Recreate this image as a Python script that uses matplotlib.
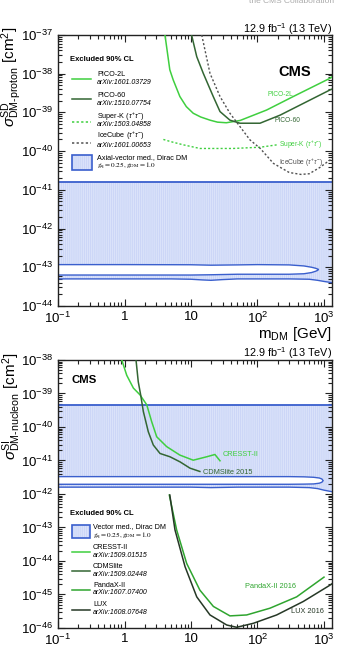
import numpy as np
import matplotlib
matplotlib.use('Agg')
import matplotlib.pyplot as plt
from matplotlib.ticker import LogLocator, FuncFormatter, NullFormatter, FixedLocator
from matplotlib.patches import Rectangle

plt.rcParams['font.family'] = ['Liberation Sans', 'DejaVu Sans']
plt.rcParams['mathtext.fontset'] = 'custom'
plt.rcParams['mathtext.rm'] = 'Liberation Sans'
plt.rcParams['mathtext.it'] = 'Liberation Sans:italic'
plt.rcParams['mathtext.bf'] = 'Liberation Sans:bold'
plt.rcParams['hatch.linewidth'] = 0.5

# ---------------- data ----------------
x_tick_values = [0.1, 1, 10, 100, 1000]
x_tick_labels = [r'$10^{-1}$', '1', '10', r'$10^{2}$', r'$10^{3}$']
x_limits = [0.1, 1320]
sd_y_limits = [1e-44, 1e-37]
si_y_limits = [1e-46, 1e-38]

# Spin-dependent panel
pico2l_mass = [4.06, 4.8, 5.4, 6.8, 8.5, 10.8, 14, 19.3, 25, 34, 55, 137, 345, 1230, 1320]
pico2l_xs = [1e-37, 1.26e-38, 6.9e-39, 2.57e-39, 1.41e-39, 9.5e-40, 7.6e-40, 6.3e-40,
             5.6e-40, 5.4e-40, 6.2e-40, 1.15e-39, 2.57e-39, 7.6e-39, 8.3e-39]
pico60_mass = [10.2, 12.2, 15.3, 21.6, 27.3, 38.5, 54.5, 109, 219, 1230, 1320]
pico60_xs = [1e-37, 2.75e-38, 1.02e-38, 2.57e-39, 1.05e-39, 6.3e-40, 5.25e-40, 5.25e-40,
             8.5e-40, 3.8e-39, 4.0e-39]
superk_mass = [3.84, 5.0, 7.7, 13.6, 43, 110, 195]
superk_xs = [2.0e-40, 1.75e-40, 1.45e-40, 1.17e-40, 1.17e-40, 1.26e-40, 1.45e-40]
icecube_mass = [14.5, 19.3, 27.3, 38.5, 54.5, 77, 110, 174, 300, 450, 600, 870, 1230, 1320]
icecube_xs = [1e-37, 1.02e-38, 2.57e-39, 9.5e-40, 4.3e-40, 1.95e-40, 1.17e-40, 4.8e-41,
              2.8e-41, 2.5e-41, 2.6e-41, 3.8e-41, 5.9e-41, 6.3e-41]

sd_band_top = 1.6e-41
sd_lower_mass = [0.1, 1, 5, 10, 15, 20, 30, 50, 100, 300, 600, 800, 1000, 1320]
sd_lower_xs = [5.0e-44, 5.0e-44, 5.0e-44, 4.9e-44, 4.7e-44, 4.6e-44, 4.8e-44, 5.0e-44,
               5.0e-44, 5.0e-44, 4.9e-44, 4.6e-44, 4.3e-44, 4.0e-44]
sd_island_mass = [0.1, 1, 10, 20, 50, 100, 300, 500, 650, 750, 800, 830]
sd_island_upper = [1.17e-43, 1.17e-43, 1.16e-43, 1.13e-43, 1.15e-43, 1.17e-43, 1.15e-43,
                   1.08e-43, 1.0e-43, 9.4e-44, 9.0e-44, 8.8e-44]
sd_island_lower = [6.3e-44, 6.3e-44, 6.3e-44, 6.4e-44, 6.6e-44, 6.6e-44, 6.6e-44, 6.8e-44,
                   7.3e-44, 7.9e-44, 8.3e-44, 8.8e-44]

# Spin-independent panel
cresst_mass = [0.91, 1.08, 1.36, 1.71, 2.16, 2.56, 3.05, 4.3, 6.8, 10.8, 17.2, 22.9, 27.3]
cresst_xs = [1e-38, 3.5e-39, 1.45e-39, 9.1e-40, 4.6e-40, 1.45e-40, 5.1e-41, 2.6e-41,
             1.45e-41, 1.02e-41, 1.29e-41, 1.51e-41, 9.8e-42]
cdmslite_mass = [1.49, 1.61, 1.75, 1.92, 2.28, 2.71, 3.42, 4.83, 6.84, 9.66, 13.6]
cdmslite_xs = [1e-38, 2.24e-39, 9.1e-40, 2.9e-40, 7.2e-41, 2.9e-41, 1.62e-41, 1.29e-41,
               9.1e-42, 5.9e-42, 4.7e-42]
pandax_mass = [4.72, 6.08, 8.6, 13.6, 21.7, 38.5, 68.7, 154, 388, 1000]
pandax_xs = [9.3e-43, 8.5e-44, 8.5e-45, 1.35e-45, 4.4e-46, 2.3e-46, 2.45e-46, 3.9e-46,
             8.5e-46, 3.3e-45]
lux_mass = [4.8, 5.74, 8.13, 12.2, 19.3, 34.4, 48.6, 86.5, 194, 489, 1230, 1320]
lux_xs = [9.3e-43, 8.5e-44, 6.8e-45, 8.5e-46, 2.45e-46, 1.23e-46, 1.05e-46, 1.38e-46,
          2.45e-46, 6.2e-46, 1.9e-45, 2.1e-45]

si_band_top = 4.6e-40
si_lower_mass = [0.1, 1, 10, 20, 50, 100, 300, 600, 800, 1000, 1320]
si_lower_xs = [1.6e-42, 1.6e-42, 1.6e-42, 1.55e-42, 1.6e-42, 1.6e-42, 1.6e-42, 1.55e-42,
               1.45e-42, 1.3e-42, 1.17e-42]
si_island_mass = [0.1, 1, 10, 100, 300, 500, 700, 850, 930, 970]
si_island_upper = [3.3e-42, 3.3e-42, 3.3e-42, 3.3e-42, 3.3e-42, 3.25e-42, 3.15e-42, 3.0e-42,
                   2.8e-42, 2.5e-42]
si_island_lower = [1.95e-42, 1.95e-42, 1.95e-42, 1.95e-42, 1.95e-42, 1.97e-42, 2.0e-42,
                   2.1e-42, 2.25e-42, 2.5e-42]

# ---------------- style ----------------
C_LIGHT = '#3fcf3f'
C_DARK = '#336633'
C_PANDA = '#2fa52f'
C_LUX = '#263826'
C_ICE = '#505050'
C_BLUE = '#3a5fcd'
C_FILL = '#dae2fa'
C_HATCH = '#c6d2f6'
HATCH = '||||||||'

fig = plt.figure(figsize=(3.38, 6.51), dpi=100)
ax1 = fig.add_axes([0.1716, 0.5300, 0.8107, 0.4163])
ax2 = fig.add_axes([0.1716, 0.03533, 0.8107, 0.4117])


def style_axis(ax, ylim):
    ax.set_xscale('log')
    ax.set_yscale('log')
    ax.set_xlim(*x_limits)
    ax.set_ylim(*ylim)
    ax.xaxis.set_major_locator(FixedLocator(x_tick_values))
    lab = dict(zip(x_tick_values, x_tick_labels))
    ax.xaxis.set_major_formatter(FuncFormatter(
        lambda v, p: min(lab.items(), key=lambda kv: abs(np.log10(kv[0]) - np.log10(v)))[1]))
    ax.xaxis.set_minor_locator(LogLocator(base=10, subs=np.arange(2, 10), numticks=20))
    ax.xaxis.set_minor_formatter(NullFormatter())
    lo = int(round(np.log10(ylim[0])))
    hi = int(round(np.log10(ylim[1])))
    ax.yaxis.set_major_locator(FixedLocator([10.0 ** k for k in range(lo, hi + 1)]))
    ax.yaxis.set_major_formatter(FuncFormatter(lambda v, p: r'$10^{%d}$' % int(round(np.log10(v)))))
    ax.yaxis.set_minor_locator(LogLocator(base=10, subs=np.arange(2, 10), numticks=30))
    ax.yaxis.set_minor_formatter(NullFormatter())
    ax.tick_params(which='both', direction='in', top=True, right=True, width=0.8, color='#222222')
    ax.tick_params(which='major', length=5, labelsize=9.5)
    ax.tick_params(axis='y', which='major', pad=3.5)
    ax.tick_params(axis='x', which='major', pad=3.5)
    ax.tick_params(which='minor', length=2.8)
    for s in ax.spines.values():
        s.set_linewidth(1.0)
        s.set_color('#222222')


style_axis(ax1, sd_y_limits)
style_axis(ax2, si_y_limits)


def draw_band(ax, lower_mass, lower_xs, top, isl_mass, isl_up, isl_lo):
    lm = np.array(lower_mass)
    ax.fill_between(lm, lower_xs, top, facecolor=C_FILL, edgecolor=C_HATCH,
                    hatch=HATCH, linewidth=0, zorder=1)
    poly_x = list(isl_mass) + list(isl_mass)[::-1]
    poly_y = list(isl_up) + list(isl_lo)[::-1]
    ax.fill(poly_x, poly_y, facecolor='white', edgecolor=C_BLUE, linewidth=1.0, zorder=2)
    ax.plot(lm, lower_xs, color=C_BLUE, lw=1.0, zorder=2)
    ax.plot(x_limits, [top, top], color=C_BLUE, lw=1.3, zorder=2)


# ---------------- top panel ----------------
draw_band(ax1, sd_lower_mass, sd_lower_xs, sd_band_top, sd_island_mass, sd_island_upper, sd_island_lower)
ax1.plot(pico2l_mass, pico2l_xs, color=C_LIGHT, lw=1.1, zorder=3)
ax1.plot(pico60_mass, pico60_xs, color=C_DARK, lw=1.1, zorder=3)
ax1.plot(superk_mass, superk_xs, color=C_LIGHT, lw=1.0, ls=(0, (1.5, 1.5)), zorder=3)
ax1.plot(icecube_mass, icecube_xs, color=C_ICE, lw=1.0, ls=(0, (1.5, 1.5)), zorder=3)

ax1.text(0.810, 0.779, 'PICO-2L', transform=ax1.transAxes, color=C_LIGHT, fontsize=4.8, ha='center', va='center')
ax1.text(0.839, 0.686, 'PICO-60', transform=ax1.transAxes, color=C_DARK, fontsize=4.8, ha='center', va='center')
ax1.text(0.807, 0.594, r'Super-K ($\tau^{+}\tau^{-}$)', transform=ax1.transAxes, color=C_LIGHT, fontsize=4.8, ha='left', va='center')
ax1.text(0.807, 0.527, r'IceCube ($\tau^{+}\tau^{-}$)', transform=ax1.transAxes, color=C_ICE, fontsize=4.8, ha='left', va='center')

ax1.text(0.865, 0.865, 'CMS', transform=ax1.transAxes, fontsize=10.5, fontweight='bold', ha='center', va='center')

tx = 0.142
ax1.text(0.044, 0.908, 'Excluded 90% CL', transform=ax1.transAxes, fontsize=5.5, fontweight='bold', va='center')
leg1 = [('PICO-2L', 'arXiv:1601.03729', C_LIGHT, '-', 0.838, 0.854, 0.823),
        ('PICO-60', 'arXiv:1510.07754', C_DARK, '-', 0.764, 0.777, 0.747),
        (r'Super-K ($\tau^{+}\tau^{-}$)', 'arXiv:1503.04858', C_LIGHT, ':', 0.679, 0.699, 0.668),
        (r'IceCube ($\tau^{+}\tau^{-}$)', 'arXiv:1601.00653', C_ICE, ':', 0.601, 0.626, 0.592)]
for name, ref, col, ls, yl, yt, yr in leg1:
    lsty = '-' if ls == '-' else (0, (1.5, 1.5))
    ax1.plot([0.051, 0.120], [yl, yl], transform=ax1.transAxes, color=col, lw=1.1, ls=lsty)
    ax1.text(tx, yt, name, transform=ax1.transAxes, fontsize=5.2, va='center')
    ax1.text(tx, yr, ref, transform=ax1.transAxes, fontsize=5.0, style='italic', va='center')
ax1.add_patch(Rectangle((0.051, 0.502), 0.073, 0.055, transform=ax1.transAxes,
                        facecolor=C_FILL, edgecolor=C_HATCH, hatch=HATCH, lw=0, zorder=3))
ax1.add_patch(Rectangle((0.051, 0.502), 0.073, 0.055, transform=ax1.transAxes,
                        facecolor='none', edgecolor=C_BLUE, lw=1.2, zorder=4))
ax1.text(tx, 0.546, 'Axial-vector med., Dirac DM', transform=ax1.transAxes, fontsize=5.2, va='center')
ax1.text(tx, 0.515, r'$g_{\rm q} = 0.25, g_{\rm DM} = 1.0$', transform=ax1.transAxes, fontsize=5.2,
         va='center', math_fontfamily='stix')

# ---------------- bottom panel ----------------
draw_band(ax2, si_lower_mass, si_lower_xs, si_band_top, si_island_mass, si_island_upper, si_island_lower)
ax2.plot(cresst_mass, cresst_xs, color=C_LIGHT, lw=1.1, zorder=3)
ax2.plot(cdmslite_mass, cdmslite_xs, color=C_DARK, lw=1.1, zorder=3)
ax2.plot(pandax_mass, pandax_xs, color=C_PANDA, lw=1.1, zorder=3)
ax2.plot(lux_mass, lux_xs, color=C_LUX, lw=1.1, zorder=3)

ax2.text(0.599, 0.649, 'CRESST-II', transform=ax2.transAxes, color=C_LIGHT, fontsize=5.3, ha='left', va='center')
ax2.text(0.529, 0.582, 'CDMSlite 2015', transform=ax2.transAxes, color=C_DARK, fontsize=5.3, ha='left', va='center')
ax2.text(0.777, 0.153, 'PandaX-II 2016', transform=ax2.transAxes, color=C_PANDA, fontsize=5.3, ha='center', va='center')
ax2.text(0.912, 0.063, 'LUX 2016', transform=ax2.transAxes, color=C_LUX, fontsize=5.3, ha='center', va='center')

ax2.text(0.051, 0.925, 'CMS', transform=ax2.transAxes, fontsize=8.2, fontweight='bold', ha='left', va='center')

tx2 = 0.128
ax2.text(0.044, 0.429, 'Excluded 90% CL', transform=ax2.transAxes, fontsize=5.5, fontweight='bold', va='center')
ax2.add_patch(Rectangle((0.051, 0.336), 0.066, 0.048, transform=ax2.transAxes,
                        facecolor=C_FILL, edgecolor=C_HATCH, hatch=HATCH, lw=0, zorder=3))
ax2.add_patch(Rectangle((0.051, 0.336), 0.066, 0.048, transform=ax2.transAxes,
                        facecolor='none', edgecolor=C_BLUE, lw=1.2, zorder=4))
ax2.text(tx2, 0.377, 'Vector med., Dirac DM', transform=ax2.transAxes, fontsize=5.2, va='center')
ax2.text(tx2, 0.342, r'$g_{\rm q} = 0.25, g_{\rm DM} = 1.0$', transform=ax2.transAxes, fontsize=5.2,
         va='center', math_fontfamily='stix')
leg2 = [('CRESST-II', 'arXiv:1509.01515', C_LIGHT, 0.284, 0.302, 0.269),
        ('CDMSlite', 'arXiv:1509.02448', C_DARK, 0.213, 0.231, 0.201),
        ('PandaX-II', 'arXiv:1607.07400', C_PANDA, 0.142, 0.160, 0.131),
        ('LUX', 'arXiv:1608.07648', C_LUX, 0.067, 0.086, 0.056)]
for name, ref, col, yl, yt, yr in leg2:
    ax2.plot([0.051, 0.117], [yl, yl], transform=ax2.transAxes, color=col, lw=1.1)
    ax2.text(tx2, yt, name, transform=ax2.transAxes, fontsize=5.2, va='center')
    ax2.text(tx2, yr, ref, transform=ax2.transAxes, fontsize=5.0, style='italic', va='center')

# ---------------- figure texts ----------------
fig.text(332 / 338, 1 - 29 / 651, r'12.9 fb$^{-1}$ (13 TeV)', ha='right', va='center', fontsize=7.8)
fig.text(332 / 338, 1 - 353 / 651, r'12.9 fb$^{-1}$ (13 TeV)', ha='right', va='center', fontsize=7.8)
fig.text(11.5 / 338, 1 - 27 / 651, r'$\sigma^{\rm SD}_{\rm DM\text{-}proton}$ [cm$^{2}$]', rotation=90,
         ha='center', va='top', fontsize=11.0)
fig.text(11.5 / 338, 1 - 352 / 651, r'$\sigma^{\rm SI}_{\rm DM\text{-}nucleon}$ [cm$^{2}$]', rotation=90,
         ha='center', va='top', fontsize=11.0)
fig.text(332 / 338, 1 - 334 / 651, r'm$_{\rm DM}$ [GeV]', ha='right', va='center', fontsize=11)
fig.text(0.99, 0.998, 'the CMS Collaboration', ha='right', va='center', fontsize=6, color='#aaaaaa')

fig.savefig('out.png', dpi=100)
